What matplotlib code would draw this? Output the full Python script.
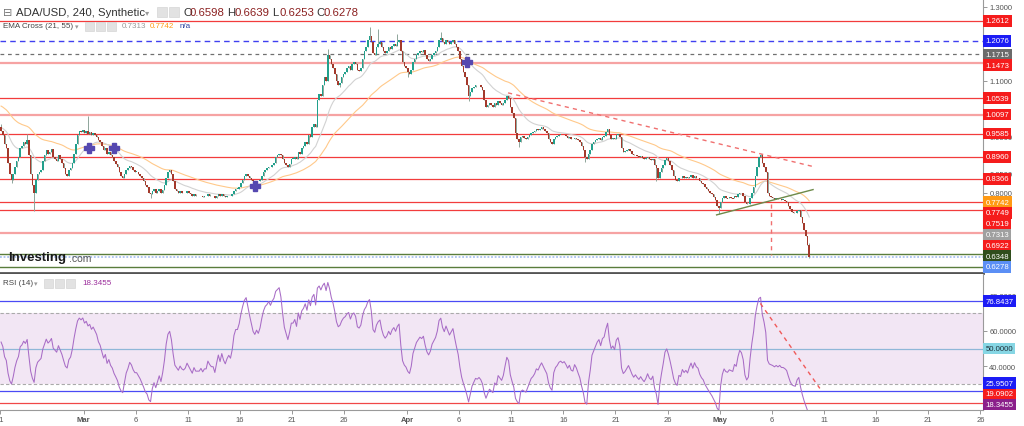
import numpy as np
import pandas as pd
import matplotlib
matplotlib.use('Agg')
import matplotlib.pyplot as plt
from matplotlib.patches import Rectangle
from matplotlib.transforms import blended_transform_factory

plt.rcParams['font.family'] = ['Liberation Sans', 'DejaVu Sans']

# ---- data: 4h closes, six per day, day 0 = Feb 21 ----
first_open = 0.975
closes = [
    0.965, 0.955, 0.930, 0.920, 0.880, 0.850,  # Feb 21
    0.835, 0.850, 0.870, 0.885, 0.895, 0.920,
    0.925, 0.935, 0.930, 0.940, 0.900, 0.850,
    0.820, 0.800, 0.835, 0.850, 0.855, 0.860,
    0.885, 0.900, 0.915, 0.905, 0.910, 0.918,
    0.895, 0.890, 0.885, 0.900, 0.890, 0.880,
    0.865, 0.850, 0.845, 0.860, 0.865, 0.880,
    0.905, 0.930, 0.955, 0.965, 0.962, 0.968,
    0.960, 0.965, 0.958, 0.962, 0.955, 0.960,  # Mar 1
    0.955, 0.950, 0.940, 0.935, 0.925, 0.915,
    0.920, 0.905, 0.910, 0.900, 0.895, 0.885,
    0.878, 0.870, 0.855, 0.845, 0.840, 0.850,
    0.860, 0.865, 0.872, 0.868, 0.860, 0.855,
    0.855, 0.850, 0.845, 0.838, 0.830, 0.820,
    0.815, 0.800, 0.795, 0.805, 0.810, 0.800,
    0.805, 0.810, 0.800, 0.808, 0.820, 0.840,
    0.855, 0.860, 0.850, 0.830, 0.810, 0.805,
    0.800, 0.805, 0.800, 0.798, 0.800, 0.805,
    0.800, 0.795, 0.790, 0.795, 0.790, 0.790,
    0.790, 0.792, 0.788, 0.790, 0.790, 0.795,
    0.792, 0.790, 0.790, 0.785, 0.790, 0.795,
    0.790, 0.795, 0.790, 0.787, 0.790, 0.792,
    0.790, 0.795, 0.805, 0.810, 0.810, 0.815,
    0.825, 0.835, 0.845, 0.850, 0.845, 0.840,
    0.835, 0.830, 0.828, 0.832, 0.830, 0.835,
    0.845, 0.855, 0.862, 0.865, 0.870, 0.868,
    0.875, 0.880, 0.895, 0.900, 0.905, 0.900,
    0.890, 0.880, 0.875, 0.870, 0.878, 0.890,
    0.890, 0.895, 0.890, 0.910, 0.905, 0.920,
    0.925, 0.935, 0.930, 0.955, 0.950, 0.975,
    0.985, 0.975, 1.050, 1.065, 1.060, 1.090,
    1.110, 1.100, 1.170, 1.160, 1.145, 1.135,
    1.120, 1.100, 1.090, 1.095, 1.110, 1.120,
    1.125, 1.135, 1.140, 1.130, 1.145, 1.150,
    1.145, 1.130, 1.128, 1.135, 1.160, 1.180,
    1.190, 1.210, 1.220, 1.205, 1.175, 1.170,
    1.190, 1.200, 1.205, 1.190, 1.180, 1.175,
    1.180, 1.190, 1.185, 1.195, 1.200, 1.195,
    1.205, 1.210, 1.180, 1.150, 1.140, 1.135,  # Apr 1
    1.125, 1.120, 1.130, 1.150, 1.160, 1.170,
    1.175, 1.180, 1.178, 1.182, 1.170, 1.160,
    1.155, 1.160, 1.170, 1.175, 1.180, 1.190,
    1.210, 1.215, 1.205, 1.200, 1.210, 1.205,
    1.200, 1.205, 1.210, 1.200, 1.190, 1.180,
    1.160, 1.140, 1.125, 1.110, 1.090, 1.060,
    1.070, 1.080, 1.085, 1.090, 1.088, 1.090,
    1.085, 1.075, 1.050, 1.030, 1.035, 1.040,
    1.035, 1.030, 1.040, 1.035, 1.045, 1.040,
    1.035, 1.040, 1.050, 1.060, 1.055, 1.030,
    1.015, 1.000, 0.960, 0.945, 0.935, 0.950,
    0.952, 0.948, 0.945, 0.950, 0.955, 0.960,
    0.962, 0.965, 0.970, 0.968, 0.972, 0.975,
    0.970, 0.965, 0.960, 0.945, 0.935, 0.930,
    0.945, 0.950, 0.952, 0.955, 0.956, 0.954,
    0.955, 0.952, 0.948, 0.950, 0.945, 0.944,
    0.948, 0.945, 0.940, 0.935, 0.925, 0.915,
    0.895, 0.890, 0.905, 0.915, 0.930, 0.935,
    0.940, 0.945, 0.948, 0.942, 0.950, 0.952,
    0.962, 0.970, 0.955, 0.945, 0.948, 0.944,
    0.955, 0.958, 0.950, 0.920, 0.910, 0.912,
    0.915, 0.918, 0.912, 0.905, 0.900, 0.902,
    0.898, 0.895, 0.897, 0.893, 0.890, 0.892,
    0.895, 0.890, 0.888, 0.890, 0.875, 0.865,
    0.840, 0.855, 0.865, 0.875, 0.888, 0.892,
    0.885, 0.875, 0.862, 0.845, 0.835, 0.830,
    0.840, 0.838, 0.845, 0.840, 0.842, 0.838,
    0.843, 0.847, 0.840, 0.845, 0.840, 0.838,
    0.830, 0.825, 0.822, 0.815, 0.810, 0.805,
    0.800, 0.795, 0.788, 0.780, 0.765, 0.758,
    0.775, 0.785, 0.790, 0.786, 0.785, 0.787,  # May 1
    0.786, 0.785, 0.790, 0.788, 0.795, 0.800,
    0.798, 0.792, 0.775, 0.768, 0.770, 0.785,
    0.800, 0.815, 0.845, 0.870, 0.895, 0.900,
    0.880, 0.870, 0.855, 0.800, 0.790, 0.788,
    0.786, 0.783, 0.785, 0.782, 0.784, 0.780,
    0.780, 0.778, 0.775, 0.765, 0.755, 0.748,
    0.746, 0.745, 0.750, 0.752, 0.735, 0.718,
    0.700, 0.682, 0.6598, 0.6278,
]
wick_high = {0: 0.984, 15: 0.957, 50: 1.007, 188: 1.186, 212: 1.244, 217: 1.240,
             228: 1.226, 253: 1.232, 437: 0.903, 465: 0.6639}
wick_low = {6: 0.825, 19: 0.750, 86: 0.785, 195: 1.083, 234: 1.110, 269: 1.047,
            298: 0.922, 336: 0.881, 377: 0.830, 413: 0.742, 465: 0.6253}
ema21_seed, ema55_seed = 0.975, 1.035
rsi_seed_gain, rsi_seed_loss = 0.009, 0.007

levels = [1.2612, 1.2076, 1.1715, 1.1473, 1.0539, 1.0097, 0.9585, 0.8960,
          0.8366, 0.7749, 0.7519, 0.6922, 0.6348, 0.6000]
level_kind = ['red', 'blue', 'gray', 'soft', 'red', 'soft', 'red', 'red',
              'red', 'red', 'red', 'soft', 'green', 'green']
last_price = 0.6278

price_tags = [('1.2612', 1.2612, 'red'), ('1.2076', 1.2076, 'blue'),
              ('1.1715', 1.1715, 'dgray'), ('1.1473', 1.1473, 'red'),
              ('1.0539', 1.0539, 'red'), ('1.0097', 1.0097, 'red'),
              ('0.9585', 0.9585, 'red'), ('0.8960', 0.8960, 'red'),
              ('0.8366', 0.8366, 'red'), ('0.7742', 0.7742, 'orange'),
              ('0.7749', 0.7749, 'red'), ('0.7519', 0.7519, 'red'),
              ('0.7313', 0.7313, 'lgray'), ('0.6922', 0.6922, 'red'),
              ('0.6348', 0.6348, 'green'), ('0.6278', 0.6278, 'lblue')]
rsi_tags = [('76.8437', 76.8437, 'blue'), ('50.0000', 50.0, 'cyan'),
            ('25.9507', 25.9507, 'blue'), ('19.0902', 19.0902, 'red'),
            ('18.3455', 18.3455, 'purple')]
rsi_levels = [76.8437, 50.0, 25.9507, 19.0902]
price_ticks = [1.30, 1.10, 0.95, 0.85, 0.80]
rsi_ticks = [40, 60, 80]

cross_days = [8.53, 10.93, 24.45, 44.8]
cross_prices = [0.920, 0.920, 0.818, 1.151]
down_trend_x, down_trend_y = [48.7, 78.1], [1.068, 0.869]
up_trend_x, up_trend_y = [68.7, 77.95], [0.740, 0.808]
drop_x, drop_y = [73.92, 73.92], [0.768, 0.632]
rsi_trend_x, rsi_trend_y = [72.9, 78.6], [75.5, 27.5]

tick_days = [0, 8, 13, 18, 23, 28, 33, 39, 44, 49, 54, 59, 64, 69, 74, 79, 84, 89, 94]
tick_text = ['21', 'Mar', '6', '11', '16', '21', '26', 'Apr', '6', '11', '16', '21',
             '26', 'May', '6', '11', '16', '21', '26']

# ---- derived series ----
price = np.array([first_open] + closes)
opens, cl = price[:-1], price[1:]
n = len(cl)
t = np.arange(n) / 6 + 1 / 12
hi = np.maximum(opens, cl)
lo = np.minimum(opens, cl)
for k, v in wick_high.items():
    hi[k] = max(hi[k], v)
for k, v in wick_low.items():
    lo[k] = min(lo[k], v)

ema21 = pd.Series([ema21_seed] + closes).ewm(span=21, adjust=False).mean().values[1:]
ema55 = pd.Series([ema55_seed] + closes).ewm(span=55, adjust=False).mean().values[1:]

delta = np.diff(price)
g, l = rsi_seed_gain, rsi_seed_loss
rsi = []
for d in delta:
    g = (g * 13 + max(d, 0)) / 14
    l = (l * 13 + max(-d, 0)) / 14
    rsi.append(100 - 100 / (1 + g / l))
rsi = np.array(rsi)

# ---- figure ----
W, H = 1024, 427
fig = plt.figure(figsize=(W / 100, H / 100), dpi=100)


def frac(x0, y0, x1, y1):
    return [x0 / W, 1 - y1 / H, (x1 - x0) / W, (y1 - y0) / H]


ax = fig.add_axes(frac(0, 0, 983, 274))
ax2 = fig.add_axes(frac(0, 275, 983, 411), sharex=ax)

ppd = 10.43
ax.set_xlim(-0.02, 983 / ppd)
ax.set_ylim(1.2612 - (274 - 22) / 372, 1.2612 + 22 / 372)
ax2.set_ylim(15.3, 92.1)

line_style = {
    'red': dict(color='#f23c3c', lw=0.9),
    'soft': dict(color='#f6a3a3', lw=1.6),
    'blue': dict(color='#4040f0', lw=1.0, ls=(0, (4, 3))),
    'gray': dict(color='#707070', lw=0.9, ls=(0, (3, 3))),
    'green': dict(color='#5a7d3c', lw=1.0),
}
for v, k in zip(levels, level_kind):
    ax.axhline(v, zorder=1, **line_style[k])
ax.axhline(last_price, color='#a9c0f0', lw=1.3, ls=(0, (1, 1)), zorder=1)

ax.plot(t, ema55, color='#ffc98a', lw=0.8, zorder=2)
ax.plot(t, ema21, color='#d2d2d2', lw=0.8, zorder=2)

up = cl >= opens
body = cl - opens
body = np.where(np.abs(body) < 0.002, np.where(up, 0.002, -0.002), body)
ax.vlines(t, lo, hi, color='#8ea59a', lw=0.7, zorder=3)
ax.bar(t, body, bottom=opens, width=0.145,
       color=np.where(up, '#22a08c', '#a3392b'), lw=0, zorder=4)

ax.plot(down_trend_x, down_trend_y, color='#f07070', lw=1.0, ls=(0, (3, 3)), zorder=5)
ax.plot(up_trend_x, up_trend_y, color='#6d8a4a', lw=1.0, zorder=5)
ax.plot(drop_x, drop_y, color='#f07070', lw=1.0, ls=(0, (3, 3)), zorder=5)
ax.plot(cross_days, cross_prices, ls='none', marker='P', ms=6.5,
        color='#5548b0', zorder=6)

# RSI panel
ax2.axhspan(30, 70, color='#f2e6f4', lw=0, zorder=0)
ax2.axhline(70, color='#aaaaaa', lw=0.8, ls=(0, (3, 2)))
ax2.axhline(30, color='#aaaaaa', lw=0.8, ls=(0, (3, 2)))
rsi_colors = ['#4a4af5', '#8fb7d8', '#4a4af5', '#f04848']
for v, c in zip(rsi_levels, rsi_colors):
    ax2.axhline(v, color=c, lw=0.9, zorder=1)
ax2.plot(t, rsi, color='#a86cc6', lw=0.75, zorder=3)
ax2.plot(rsi_trend_x, rsi_trend_y, color='#f05a5a', lw=1.0, ls=(0, (3, 3)), zorder=4)

# axes styling
for a in (ax, ax2):
    a.set_facecolor('white')
    a.spines['top'].set_visible(False)
    a.spines['left'].set_visible(False)
    a.spines['right'].set_color('#9a9a9a')
    a.yaxis.tick_right()
    a.tick_params(axis='y', labelsize=5.5, labelcolor='#555555', color='#888888',
                  length=3, width=0.6, pad=1.5)
ax.spines['bottom'].set_color('#555555')
ax.spines['bottom'].set_linewidth(2)
ax.tick_params(axis='x', bottom=False, labelbottom=False)
ax.set_yticks(price_ticks)
ax.yaxis.set_major_formatter(plt.FormatStrFormatter('%.4f'))
ax2.set_yticks(rsi_ticks)
ax2.yaxis.set_major_formatter(plt.FormatStrFormatter('%.4f'))
ax2.spines['bottom'].set_color('#9a9a9a')
ax2.set_xticks(tick_days)
ax2.set_xticklabels(tick_text)
ax2.tick_params(axis='x', labelsize=5.5, labelcolor='#555555', color='#888888',
                length=3, width=0.6, pad=1.5)
for lab in ax2.get_xticklabels():
    if lab.get_text() in ('Mar', 'Apr', 'May'):
        lab.set_fontweight('bold')

tag_bg = {'red': '#f51c1c', 'blue': '#1c1cf5', 'dgray': '#6b6b6b', 'orange': '#ff9a14',
          'lgray': '#a0a0a0', 'green': '#2f4d1c', 'lblue': '#5b8ff5', 'cyan': '#86d6e4',
          'purple': '#8b1f8b'}


def draw_tags(a, tags, upward):
    y0, y1 = a.get_ylim()
    h = 10.8 * (y1 - y0) / (a.bbox.height)
    tr = blended_transform_factory(a.transAxes, a.transData)
    ys = []
    order = list(reversed(tags)) if upward else tags
    prev = None
    for txt, v, c in order:
        if prev is None:
            y = v
        elif upward:
            y = max(v, prev + h)
        else:
            y = min(v, prev - h)
        prev = y
        ys.append((txt, y, c))
    for txt, y, c in ys:
        a.text(1.0025, y, txt, transform=tr, ha='left', va='center', fontsize=5.6,
               color='#20303a' if c == 'cyan' else 'white', clip_on=False, zorder=10,
               bbox=dict(boxstyle='square,pad=0.28', fc=tag_bg[c], ec='none'))


draw_tags(ax, price_tags, upward=False)
draw_tags(ax2, rsi_tags, upward=True)


def px(x, y):
    return x / W, 1 - y / H


def icons(x0, y, count, size):
    for i in range(count):
        fig.patches.append(Rectangle(px(x0 + i * (size + 2), y + size / 2), size / W, size / H,
                                     transform=fig.transFigure, fc='#e2e2e2', ec='#cfcfcf',
                                     lw=0.4, zorder=20))


# header
fig.text(*px(3, 13), '\u229f', fontsize=8, color='#777777', va='center', family='DejaVu Sans')
fig.text(*px(16, 13), 'ADA/USD, 240, Synthetic', fontsize=8.2, color='#333333', va='center')
fig.text(*px(145, 13), '\u25be', fontsize=6, color='#999999', va='center', family='DejaVu Sans')
icons(157, 13, 2, 10)
x = 183
for lab, val in [('O', '0.6598'), ('H', '0.6639'), ('L', '0.6253'), ('C', '0.6278')]:
    fig.text(*px(x, 13), lab, fontsize=8.2, color='#333333', va='center')
    fig.text(*px(x + 7, 13), val, fontsize=8.2, color='#8b2020', va='center')
    x += 44.5

fig.text(*px(3, 27), 'EMA Cross (21, 55)', fontsize=5.8, color='#444444', va='center')
fig.text(*px(75, 27), '\u25be', fontsize=5, color='#999999', va='center', family='DejaVu Sans')
icons(85, 27, 3, 9)
fig.text(*px(122, 27), '0.7313', fontsize=5.8, color='#999999', va='center')
fig.text(*px(150, 27), '0.7742', fontsize=5.8, color='#ff9a14', va='center')
fig.text(*px(180, 27), 'n/a', fontsize=5.8, color='#2a3fa0', va='center')

fig.text(*px(3, 284), 'RSI (14)', fontsize=5.8, color='#444444', va='center')
fig.text(*px(34, 284), '\u25be', fontsize=5, color='#999999', va='center', family='DejaVu Sans')
icons(44, 284, 3, 9)
fig.text(*px(82, 284), '18.3455', fontsize=5.8, color='#9b2d9b', va='center')

# logo
fig.text(*px(8, 258), 'Investing', fontsize=9.5, fontweight='bold', color='#1a1a1a', va='center')
fig.text(*px(69, 259.5), '.com', fontsize=7.5, color='#555555', va='center')

fig.savefig('out.png', dpi=100, facecolor='white')
